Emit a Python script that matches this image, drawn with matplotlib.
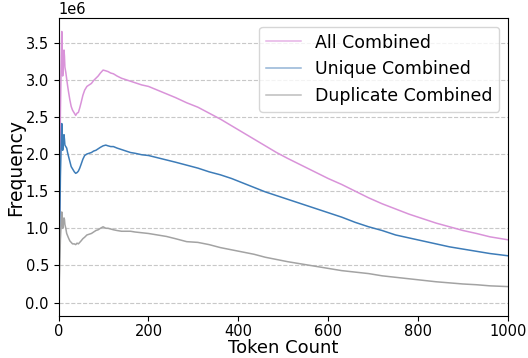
#!/usr/bin/env python3
"""
Token count frequency curves: all / unique / duplicate.
"""

import matplotlib
matplotlib.use('Agg')
import matplotlib.pyplot as plt

# Data (frequencies in millions)
tokens = [0, 2, 4, 6, 7, 8, 9, 10, 11, 12, 13, 14, 16, 18, 20, 22, 25, 28, 31,
          35, 38, 41, 44, 47, 50, 54, 58, 63, 68, 73, 78, 83, 88, 93, 99, 105,
          110, 116, 122, 130, 140, 150, 160, 170, 185, 200, 220, 240, 260, 285,
          310, 335, 360, 385, 410, 435, 460, 485, 510, 540, 570, 600, 630, 660,
          690, 720, 750, 780, 810, 840, 870, 900, 930, 960, 1000]

unique_m = [0.0, 0.8, 1.7, 2.2, 2.41, 2.3, 2.05, 2.1, 2.2, 2.26, 2.2, 2.12, 2.1,
            2.08, 2.02, 1.97, 1.9, 1.83, 1.8, 1.76, 1.74, 1.75, 1.77, 1.81, 1.86,
            1.93, 1.98, 2.0, 2.01, 2.02, 2.04, 2.05, 2.07, 2.09, 2.11, 2.12, 2.11,
            2.1, 2.1, 2.08, 2.06, 2.04, 2.02, 2.01, 1.99, 1.98, 1.95, 1.92, 1.89,
            1.85, 1.81, 1.76, 1.72, 1.67, 1.61, 1.55, 1.49, 1.44, 1.39, 1.33,
            1.27, 1.21, 1.15, 1.08, 1.02, 0.97, 0.91, 0.87, 0.83, 0.79, 0.75,
            0.72, 0.69, 0.66, 0.63]

duplicate_m = [0.0, 0.4, 0.85, 1.1, 1.22, 1.15, 1.0, 1.02, 1.1, 1.14, 1.12, 1.05,
               1.0, 0.93, 0.9, 0.87, 0.83, 0.81, 0.79, 0.79, 0.78, 0.8, 0.79,
               0.81, 0.83, 0.86, 0.88, 0.91, 0.92, 0.93, 0.95, 0.97, 0.98, 1.0,
               1.02, 1.0, 1.0, 0.99, 0.98, 0.97, 0.96, 0.96, 0.96, 0.95, 0.94,
               0.93, 0.91, 0.89, 0.86, 0.82, 0.81, 0.78, 0.74, 0.71, 0.68, 0.65,
               0.61, 0.58, 0.55, 0.52, 0.49, 0.46, 0.43, 0.41, 0.39, 0.36, 0.34,
               0.32, 0.30, 0.28, 0.265, 0.25, 0.24, 0.225, 0.215]

all_m = [0.0, 1.2, 2.55, 3.3, 3.65, 3.45, 3.05, 3.12, 3.3, 3.4, 3.32, 3.17, 3.1,
         3.01, 2.92, 2.84, 2.73, 2.64, 2.59, 2.55, 2.52, 2.55, 2.56, 2.62, 2.69,
         2.79, 2.86, 2.91, 2.93, 2.95, 2.99, 3.02, 3.05, 3.09, 3.13, 3.12, 3.11,
         3.09, 3.08, 3.05, 3.02, 3.0, 2.98, 2.96, 2.93, 2.91, 2.86, 2.81, 2.76,
         2.69, 2.63, 2.55, 2.47, 2.38, 2.29, 2.2, 2.11, 2.02, 1.94, 1.85, 1.76,
         1.67, 1.59, 1.5, 1.41, 1.33, 1.26, 1.19, 1.13, 1.07, 1.02, 0.97, 0.93,
         0.885, 0.845]


def main():
    fig = plt.figure(figsize=(5.28, 3.58), dpi=100)
    ax = fig.add_axes([0.111, 0.117, 0.851, 0.833])

    scale = 1e6
    ax.plot(tokens, [v * scale for v in all_m], color='#d993d9', lw=1.1,
            label='All Combined')
    ax.plot(tokens, [v * scale for v in unique_m], color='#3d7cb8', lw=1.1,
            label='Unique Combined')
    ax.plot(tokens, [v * scale for v in duplicate_m], color='#a3a3a3', lw=1.1,
            label='Duplicate Combined')

    ax.set_xlim(0, 1000)
    ax.tick_params(labelsize=10.5)
    ax.tick_params(axis='x', pad=2.5)
    ax.set_xlabel('Token Count', fontsize=13, labelpad=-0.5)
    ax.set_ylabel('Frequency', fontsize=13.5, labelpad=0)
    ax.yaxis.get_offset_text().set_fontsize(10.5)
    ax.grid(axis='y', linestyle='--', color='#c8c8c8', lw=0.8)

    leg = ax.legend(loc='upper right', fontsize=12.5)
    for h, c in zip(leg.get_lines(), ['#e6b3e6', '#93b4d6', '#bdbdbd']):
        h.set_color(c)

    fig.savefig('out.png', dpi=100)


if __name__ == '__main__':
    main()
